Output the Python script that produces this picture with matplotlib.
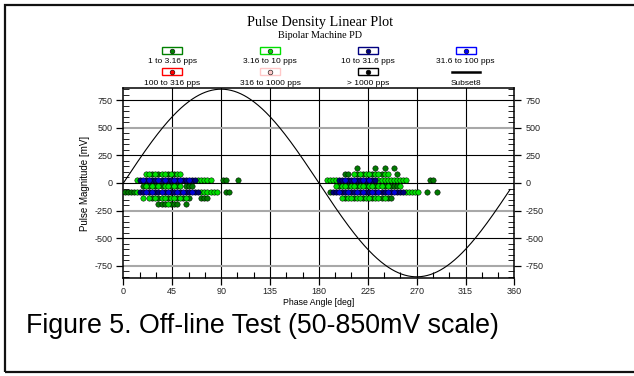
import matplotlib
matplotlib.use("Agg")
import matplotlib.pyplot as plt
from matplotlib.patches import Rectangle
from matplotlib.lines import Line2D
from matplotlib.transforms import blended_transform_factory
import numpy as np

plt.rcParams["axes.unicode_minus"] = False

# ---------------- data ----------------
title = "Pulse Density Linear Plot"
subtitle = "Bipolar Machine PD"
caption = "Figure 5. Off-line Test (50-850mV scale)"
x_label = "Phase Angle [deg]"
y_label = "Pulse Magnitude [mV]"

x_ticks = [0, 45, 90, 135, 180, 225, 270, 315, 360]
y_ticks = [-750, -500, -250, 0, 250, 500, 750]

legend_labels = ["1 to 3.16 pps", "3.16 to 10 pps", "10 to 31.6 pps", "31.6 to 100 pps",
                 "100 to 316 pps", "316 to 1000 pps", "> 1000 pps", "Subset8"]
legend_colors = ["#008000", "#00e000", "#000080", "#0000ff",
                 "#ff0000", "#ffc8c8", "#000000", "#000000"]

# reference sine (Subset8)
sine_amplitude = 850
sine_phase_shift = 0
sine_end = 356

# pulse rows: magnitude level (mV) -> list of phase angles (deg)
# 1 to 3.16 pps (dark green)
dark_green = {
    80: [26.7, 32.3, 40.8, 46.4, 204.0, 206.7, 215.2, 220.8, 229.2, 237.7, 251.7],
    27: [91.4, 94.2, 105.5, 282.7, 285.5],
    -27: [18.3, 23.9, 29.5, 35.2, 43.6, 49.2, 57.7, 60.5, 63.3,
          198.3, 206.7, 215.2, 223.6, 232.0, 240.5, 246.1, 248.9, 251.7],
    -80: [1.4, 4.2, 7.0, 9.8, 94.2, 97.0, 189.8, 279.8, 288.3],
    -133: [26.7, 32.3, 40.8, 49.2, 54.8, 60.5, 71.7, 74.5, 77.3,
           204.0, 212.3, 220.8, 229.2, 237.7, 243.3, 246.1],
    -186: [32.3, 35.2, 38.0, 43.6, 46.4, 49.2, 57.7],
    133: [215.2, 232.0, 240.5, 248.9],
}
# 3.16 to 10 pps (bright green)
bright_green = {
    80: [21.1, 23.9, 29.5, 35.2, 38.0, 43.6, 49.2, 52.0,
         212.3, 218.0, 223.6, 226.4, 232.0, 234.8, 240.5, 243.3],
    27: [12.7, 68.9, 71.7, 74.5, 77.3, 80.2,
         187.0, 189.8, 192.7, 195.5, 234.8, 237.7, 240.5, 243.3, 246.1,
         248.9, 251.7, 254.5, 257.3, 260.2],
    -27: [21.1, 26.7, 32.3, 38.0, 40.8, 46.4, 52.0,
          195.5, 201.1, 203.9, 209.5, 212.3, 218.0, 220.8, 226.4, 229.2,
          234.8, 237.7, 243.3, 254.5],
    -80: [12.7, 71.7, 74.5, 77.3, 80.2, 83.0, 85.8,
          260.2, 263.0, 265.8, 268.6, 271.4],
    -133: [18.3, 23.9, 29.5, 35.2, 38.0, 43.6, 46.4, 52.0, 57.7,
           201.1, 206.7, 209.5, 215.2, 218.0, 223.6, 226.4, 232.0, 234.8, 240.5],
    -186: [40.8],
}
# 10 to 31.6 pps (navy)
navy = {
    27: [15.5, 21.1, 26.7, 29.5, 35.2, 40.8, 43.6, 49.2, 54.8, 57.7, 63.3, 66.1,
         198.3, 201.1, 206.7, 209.5, 215.2, 218.0, 223.6, 229.2, 232.0],
    -80: [15.5, 18.3, 23.9, 29.5, 32.3, 38.0, 43.6, 46.4, 52.0, 57.7, 60.5, 66.1, 68.9,
          192.7, 195.5, 201.1, 203.9, 209.5, 212.3, 218.0, 223.6, 226.4, 232.0,
          237.7, 240.5, 246.1, 251.7, 254.5, 257.3],
}
# 31.6 to 100 pps (blue)
blue = {
    27: [18.3, 23.9, 32.3, 38.0, 46.4, 52.0, 60.5,
         203.9, 212.3, 220.8, 226.4],
    -80: [21.1, 26.7, 35.2, 40.8, 49.2, 54.8, 63.3,
          198.3, 206.7, 215.2, 220.8, 229.2, 234.8, 243.3, 248.9],
}

# ---------------- figure ----------------
W, H = 634, 376
fig = plt.figure(figsize=(W / 100, H / 100), dpi=100)
fig.patch.set_facecolor("white")

sans = ["Liberation Sans", "DejaVu Sans"]
serif = ["Liberation Serif", "DejaVu Serif"]

# outer frame
fig.add_artist(Rectangle((4.5 / W, 1 - 372 / H), 640 / W, (372 - 4.5) / H,
                         transform=fig.transFigure, fill=False, lw=1.6,
                         edgecolor="#111111"))

ax = fig.add_axes([123.4 / W, 1 - 277.7 / H, 391 / W, 189.4 / H])
ax.set_xlim(0, 360)
ax.set_ylim(-858, 858)

# grid lines
for xv in x_ticks[1:-1]:
    ax.axvline(xv, color="black", lw=0.8, zorder=1)
for yv in y_ticks:
    gray = yv in (500, -250, -750)
    ax.axhline(yv, color="#a8a8a8" if gray else "black",
               lw=1.5 if gray else 0.8, zorder=1)

# sine
xs = np.linspace(0, sine_end, 600)
ax.plot(xs, sine_amplitude * np.sin(np.radians(xs - sine_phase_shift)),
        color="black", lw=0.8, zorder=2)

def draw(series, color, z):
    px, py = [], []
    for lvl, phases in series.items():
        for p in phases:
            px.append(p)
            py.append(lvl)
    ax.scatter(px, py, s=15, marker="o", facecolor=color, edgecolor="black",
               linewidths=0.35, zorder=z)

draw(dark_green, "#007a00", 3)
draw(bright_green, "#00e000", 4)
draw(navy, "#00007a", 5)
draw(blue, "#0000d8", 6)

# ticks
ax.set_xticks(x_ticks)
ax.set_xticks(np.arange(0, 361, 15), minor=True)
ax.set_yticks(y_ticks)
ax.set_yticks(np.arange(-850, 851, 50), minor=True)
ax.tick_params(axis="x", which="major", direction="out", length=5, width=0.9,
               labelsize=6.5, pad=2, top=False)
ax.tick_params(axis="x", which="minor", direction="in", length=4, width=0.8,
               top=False)
ax.tick_params(axis="y", which="major", direction="out", length=5, width=0.9,
               labelsize=6.5, pad=3, left=True, right=True,
               labelleft=True, labelright=True)
ax.tick_params(axis="y", which="minor", direction="in", length=4, width=0.6,
               left=True, right=True)
for lab in ax.get_xticklabels() + ax.get_yticklabels():
    lab.set_family(sans)
    lab.set_color("#222222")
for s in ax.spines.values():
    s.set_linewidth(1.1)
    s.set_color("black")

ax.set_xlabel(x_label, fontsize=6.3, family=sans, labelpad=1)
ax.set_ylabel(y_label, fontsize=7.0, family=sans, labelpad=3)

# titles
fig.text(320 / W, 1 - 22.7 / H, title, ha="center", va="center",
         fontsize=10.3, family=serif)
fig.text(320 / W, 1 - 35 / H, subtitle, ha="center", va="center",
         fontsize=7.3, family=serif)

# legend (columns aligned with 45/135/225/315 deg)
tr = blended_transform_factory(ax.transData, fig.transFigure)
cols = [45, 135, 225, 315]
icon_y = [1 - 50.7 / H, 1 - 71.7 / H]
text_y = [1 - 61.7 / H, 1 - 83.3 / H]
bw = 20 / 1.086
bh = 7 / H
for i, (lab, col) in enumerate(zip(legend_labels, legend_colors)):
    r, c = divmod(i, 4)
    xc = cols[c]
    if lab == "Subset8":
        fig.add_artist(Line2D([xc - 14 / 1.086, xc + 14 / 1.086],
                              [icon_y[r], icon_y[r]], transform=tr,
                              color="black", lw=1.8))
    else:
        fig.add_artist(Rectangle((xc - bw / 2, icon_y[r] - bh / 2), bw, bh,
                                 transform=tr, fill=False, edgecolor=col,
                                 lw=1.0))
        fig.add_artist(Line2D([xc], [icon_y[r]], transform=tr, marker="o",
                              markersize=3.4, markerfacecolor=col,
                              markeredgecolor="black", markeredgewidth=0.4,
                              linestyle="none"))
    fig.text(xc, text_y[r], lab, transform=tr, ha="center", va="center",
             fontsize=6.0, family=sans)

# caption
fig.text(26 / W, 1 - 326 / H, caption, ha="left", va="center",
         fontsize=19.3, family=sans)

fig.savefig("out.png", dpi=100, facecolor="white")
